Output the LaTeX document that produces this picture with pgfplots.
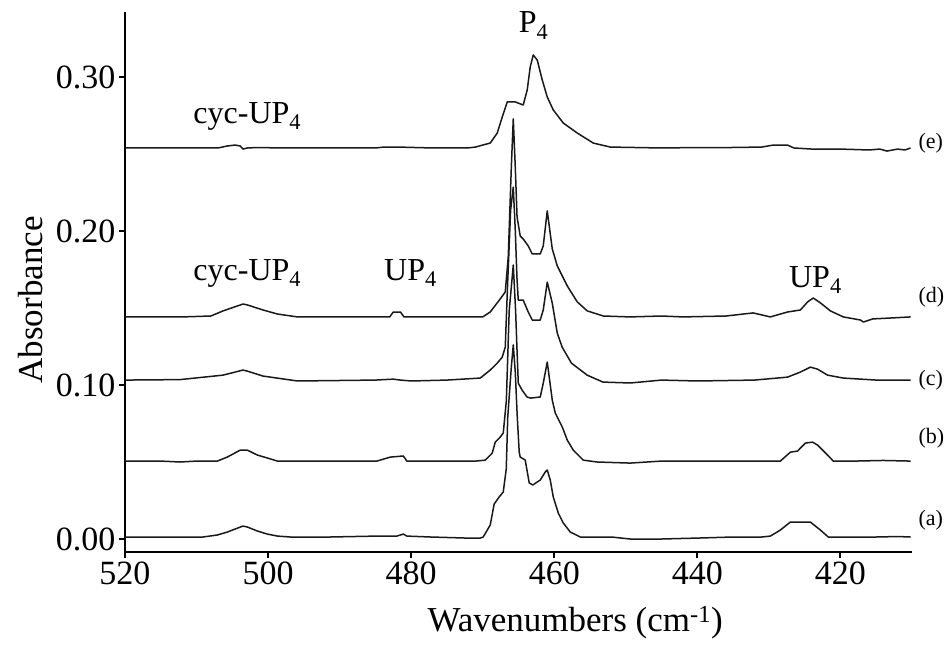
\documentclass[border=0pt]{standalone}
\usepackage{fontspec}
\setmainfont{Liberation Serif}
\usepackage{pgfplots}
\pgfplotsset{compat=1.18}
\begin{document}
\begin{tikzpicture}[spec/.style={black!90, line width=1.5pt, mark=none, sharp plot, line join=round}]
\begin{axis}[
  scale only axis, width=787pt, height=540pt,
  x dir=reverse, xmin=410, xmax=520, ymin=-0.00844, ymax=0.3422,
  axis x line*=bottom, axis y line*=left,
  axis line style={line width=2.4pt, black},
  tick align=outside, major tick length=6pt,
  tick style={line width=2pt, black},
  xtick={420,440,460,480,500,520}, ytick={0,0.1,0.2,0.3},
  minor tick num=0,
  /pgf/number format/assume math mode=true,
  tick label style={font=\fontsize{34}{38}\selectfont},
  yticklabel style={/pgf/number format/.cd, fixed, fixed zerofill, precision=2},
  xticklabel style={/pgf/number format/.cd, 1000 sep={}},
  xlabel={Wavenumbers (cm\textsuperscript{-1})},
  ylabel={Absorbance},
  label style={font=\fontsize{35}{38}\selectfont},
  xlabel style={at={(axis description cs:0.572,-0.13)}, anchor=center},
  ylabel style={at={(axis description cs:-0.12,0.467)}, anchor=center},
  clip=false,
]
% (a)
\addplot[spec] coordinates {
(520,0.0013)(516.5,0.0013)(512.3,0.0013)(509.1,0.0013)(507.1,0.0026)(505.7,0.0045)(504.6,0.0065)(503.5,0.0084)(502.9,0.0078)(501.5,0.0052)(500.1,0.0032)(498.7,0.0019)(496.9,0.0013)(491.3,0.0013)(484.8,0.0019)(482.0,0.0019)(481.1,0.0032)(480.6,0.0019)(477.3,0.0013)(472.2,0.0006)(470.35,0.0006)(469.93,0.0013)(468.95,0.0091)(468.4,0.0227)(467.7,0.0273)(467.13,0.0305)(466.71,0.0455)(466.5,0.0792)(466.0,0.1117)(465.73,0.126)(465.45,0.1084)(465.17,0.0792)(464.9,0.0565)(464.76,0.0532)(464.06,0.0513)(463.5,0.0364)(463.0,0.0351)(461.96,0.0383)(461.26,0.0435)(460.98,0.0448)(460.56,0.0383)(460.14,0.0273)(459.44,0.0169)(458.74,0.0104)(457.76,0.0045)(456.36,0.0013)(452,0.0013)(449.4,0.0)(445,0.0)(440,0.0006)(435,0.0013)(431,0.0013)(429.8,0.0019)(428.4,0.0058)(427.0,0.0110)(424.2,0.0110)(422.8,0.0058)(421.7,0.0013)(419.6,0.0013)(415,0.0013)(412,0.0016)(410.2,0.0013)
};
% (b)
\addplot[spec] coordinates {
(520,0.0506)(515,0.0506)(512.3,0.0500)(510,0.0506)(507.1,0.0506)(505.7,0.0532)(503.9,0.0577)(502.9,0.0577)(501.5,0.0545)(500.1,0.0526)(498.7,0.0506)(490,0.0506)(484.8,0.0506)(482.9,0.0532)(481.1,0.0539)(480.6,0.0506)(475,0.0506)(471,0.0506)(469.65,0.0512)(468.67,0.0558)(468.25,0.0629)(467.55,0.0662)(467.13,0.0688)(466.7,0.0896)(466.3,0.148)(465.73,0.1779)(465.4,0.148)(465.2,0.122)(465.03,0.1012)(464.5,0.0967)(463.8,0.0922)(463.3,0.0915)(461.96,0.0922)(461.54,0.1012)(460.98,0.1149)(460.28,0.0902)(459.86,0.0818)(458.88,0.0727)(458.18,0.0642)(457.34,0.0577)(455.94,0.0512)(454,0.0500)(449.4,0.0493)(445,0.0506)(440,0.0506)(435,0.0506)(428.4,0.0506)(427,0.0564)(426,0.0571)(424.9,0.0623)(423.9,0.0629)(423.2,0.061)(421.8,0.0545)(421,0.0506)(418,0.0506)(414,0.0510)(410.2,0.0506)
};
% (c)
\addplot[spec] coordinates {
(520,0.1032)(512.3,0.1035)(506.3,0.1064)(503.5,0.1097)(502.9,0.109)(500.7,0.1058)(495.9,0.1026)(485,0.1032)(482.5,0.1038)(481.5,0.1032)(480,0.1026)(475,0.1032)(470.35,0.1045)(468.95,0.1097)(467.97,0.1142)(467.27,0.1181)(466.85,0.1246)(466.5,0.1681)(466.1,0.2136)(465.73,0.2285)(465.45,0.2006)(465.2,0.1681)(465.03,0.1551)(464.34,0.1551)(463.64,0.1474)(463.08,0.1422)(461.96,0.1422)(461.54,0.1487)(460.98,0.1668)(460.28,0.1532)(459.58,0.1337)(458.9,0.1246)(457.6,0.1142)(455.4,0.1064)(453.2,0.1019)(449.4,0.1013)(445,0.1032)(440,0.1026)(432,0.1032)(427.4,0.1051)(425.6,0.1084)(424.2,0.1116)(423.2,0.1103)(421.8,0.1064)(419.6,0.1045)(415,0.1032)(410.2,0.1032)
};
% (d)
\addplot[spec] coordinates {
(520,0.1442)(512,0.1442)(508,0.1448)(506.3,0.1481)(503.5,0.1526)(502.9,0.152)(500.7,0.1487)(498.7,0.1461)(495.9,0.1442)(490,0.1442)(483,0.1442)(482.5,0.1474)(481.5,0.1474)(481,0.1442)(475,0.1442)(470,0.1442)(468.95,0.1474)(467.55,0.1559)(466.85,0.1604)(466.43,0.1832)(466.0,0.2416)(465.73,0.2728)(465.45,0.2416)(465.2,0.2091)(464.76,0.1968)(464.34,0.1948)(463.64,0.1903)(463.08,0.1851)(461.96,0.1851)(461.54,0.1903)(460.98,0.213)(460.28,0.1884)(459.58,0.1773)(458.18,0.1643)(456.78,0.1539)(455.38,0.1481)(453.15,0.1448)(449.4,0.1442)(445,0.1448)(442,0.1442)(436,0.1448)(432.2,0.1468)(429.8,0.1442)(427.4,0.1474)(425.6,0.1487)(424.6,0.1539)(423.8,0.1565)(422.8,0.1533)(421.4,0.1481)(419.6,0.1442)(417.2,0.1422)(416.8,0.1409)(415.5,0.1429)(413,0.1435)(410.2,0.1442)
};
% (e)
\addplot[spec] coordinates {
(520,0.2539)(507,0.2539)(505.7,0.2552)(504.6,0.2558)(503.9,0.2552)(503.5,0.2532)(502.9,0.2539)(501.5,0.2542)(498,0.2539)(485,0.2539)(484,0.2544)(481,0.2544)(477,0.2539)(472.17,0.2539)(471,0.2545)(470,0.2558)(468.95,0.2571)(467.97,0.2636)(467.27,0.274)(466.57,0.2838)(465.45,0.2838)(464.34,0.2818)(463.78,0.2916)(463.36,0.3065)(462.94,0.3143)(462.38,0.3110)(461.68,0.2981)(460.98,0.2870)(460.14,0.2786)(458.74,0.2701)(456.78,0.2636)(454.55,0.2571)(452.17,0.2545)(445,0.2539)(440,0.2542)(435.4,0.2542)(431,0.2545)(429.4,0.2558)(427.4,0.2558)(426.5,0.2539)(424,0.2532)(420,0.2532)(418,0.2529)(416,0.2526)(414.5,0.2532)(413.5,0.2519)(412,0.2532)(411,0.2526)(410.2,0.2539)
};
\begin{scope}[every node/.style={font=\fontsize{32}{36}\selectfont, anchor=base, inner sep=0pt}]
\node at (axis cs:462.9,0.3286) {P\textsubscript{4}};
\node at (axis cs:502.9,0.270) {cyc-UP\textsubscript{4}};
\node at (axis cs:502.9,0.168) {cyc-UP\textsubscript{4}};
\node at (axis cs:480.1,0.168) {UP\textsubscript{4}};
\node at (axis cs:423.5,0.1636) {UP\textsubscript{4}};
\end{scope}
\begin{scope}[every node/.style={font=\fontsize{22}{24}\selectfont, anchor=west, inner sep=0pt}]
\node at (axis cs:409.1,0.2571) {(e)};
\node at (axis cs:409.1,0.1571) {(d)};
\node at (axis cs:409.1,0.1032) {(c)};
\node at (axis cs:409.1,0.0656) {(b)};
\node at (axis cs:409.1,0.0123) {(a)};
\end{scope}
\end{axis}
\pgfresetboundingbox
\path[use as bounding box] (-125pt,-94pt) rectangle (820pt,552pt);
\end{tikzpicture}
\end{document}
